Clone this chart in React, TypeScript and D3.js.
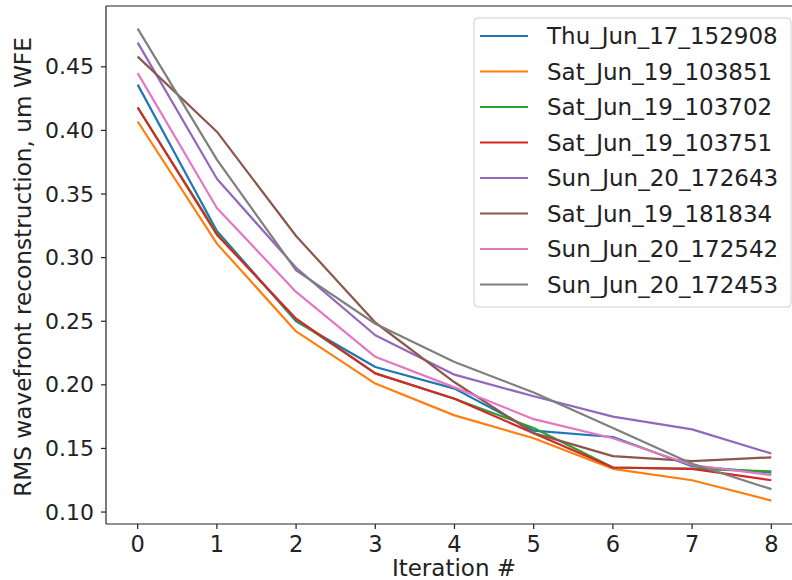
import React, { useEffect, useRef } from "react";
import * as d3 from "d3";

const iterations = [0, 1, 2, 3, 4, 5, 6, 7, 8];
const seriesNames = [
  "Thu_Jun_17_152908",
  "Sat_Jun_19_103851",
  "Sat_Jun_19_103702",
  "Sat_Jun_19_103751",
  "Sun_Jun_20_172643",
  "Sat_Jun_19_181834",
  "Sun_Jun_20_172542",
  "Sun_Jun_20_172453",
];
const thu152908 = [0.436, 0.321, 0.25, 0.214, 0.197, 0.164, 0.159, 0.136, 0.131];
const sat103851 = [0.407, 0.311, 0.242, 0.201, 0.176, 0.158, 0.134, 0.125, 0.109];
const sat103702 = [0.418, 0.319, 0.251, 0.209, 0.189, 0.166, 0.135, 0.134, 0.132];
const sat103751 = [0.418, 0.318, 0.252, 0.209, 0.189, 0.162, 0.135, 0.134, 0.125];
const sun172643 = [0.469, 0.362, 0.292, 0.239, 0.208, 0.191, 0.175, 0.165, 0.146];
const sat181834 = [0.458, 0.399, 0.317, 0.249, 0.202, 0.162, 0.144, 0.14, 0.143];
const sun172542 = [0.445, 0.339, 0.273, 0.222, 0.198, 0.173, 0.158, 0.137, 0.129];
const sun172453 = [0.48, 0.377, 0.29, 0.248, 0.218, 0.194, 0.166, 0.138, 0.118];
const seriesValues = [thu152908, sat103851, sat103702, sat103751, sun172643, sat181834, sun172542, sun172453];
const colors = ["#1f77b4", "#ff7f0e", "#2ca02c", "#d62728", "#9467bd", "#8c564b", "#e377c2", "#7f7f7f"];
const yTicks = [0.1, 0.15, 0.2, 0.25, 0.3, 0.35, 0.4, 0.45];
const xLabel = "Iteration #";
const yLabel = "RMS wavefront reconstruction, um WFE";

export default function App() {
  const ref = useRef<SVGSVGElement>(null);
  useEffect(() => {
    const svg = d3.select(ref.current);
    svg.selectAll("*").remove();
    const font = "DejaVu Sans, sans-serif";
    const left = 106, right = 803, top = 6, bottom = 524;
    const x = d3.scaleLinear().domain([-0.4, 8.4]).range([left, right]);
    const y = d3.scaleLinear().domain([0.0906, 0.4978]).range([bottom, top]);

    svg.append("rect").attr("width", 792).attr("height", 580).attr("fill", "white");

    svg.append("defs").append("clipPath").attr("id", "plotclip")
      .append("rect").attr("x", left).attr("y", top).attr("width", right - left).attr("height", bottom - top);

    const line = d3.line<number>().x((_, i) => x(iterations[i])).y((d) => y(d));
    const g = svg.append("g").attr("clip-path", "url(#plotclip)");
    seriesValues.forEach((vals, i) => {
      g.append("path").attr("d", line(vals)).attr("fill", "none")
        .attr("stroke", colors[i]).attr("stroke-width", 2.2).attr("stroke-linejoin", "round");
    });

    // spines
    const sp = svg.append("g").attr("stroke", "#222").attr("stroke-width", 1.2);
    sp.append("line").attr("x1", left).attr("x2", left).attr("y1", top).attr("y2", bottom);
    sp.append("line").attr("x1", left).attr("x2", right).attr("y1", top).attr("y2", top);
    sp.append("line").attr("x1", left).attr("x2", right).attr("y1", bottom).attr("y2", bottom);

    // x ticks
    const xt = svg.append("g");
    iterations.forEach((t) => {
      xt.append("line").attr("x1", x(t)).attr("x2", x(t)).attr("y1", bottom).attr("y2", bottom + 5)
        .attr("stroke", "#222").attr("stroke-width", 1.2);
      xt.append("text").attr("x", x(t)).attr("y", 552).attr("text-anchor", "middle")
        .attr("font-family", font).attr("font-size", 22.5).attr("fill", "#222").text(String(t));
    });
    // y ticks
    const yt = svg.append("g");
    yTicks.forEach((t) => {
      yt.append("line").attr("x1", left - 5).attr("x2", left).attr("y1", y(t)).attr("y2", y(t))
        .attr("stroke", "#222").attr("stroke-width", 1.2);
      yt.append("text").attr("x", 94).attr("y", y(t)).attr("text-anchor", "end")
        .attr("dominant-baseline", "central")
        .attr("font-family", font).attr("font-size", 22).attr("fill", "#222").text(t.toFixed(2));
    });

    svg.append("text").attr("x", 454).attr("y", 576).attr("text-anchor", "middle")
      .attr("font-family", font).attr("font-size", 23).attr("fill", "#222").text(xLabel);
    svg.append("text").attr("transform", "translate(31,267) rotate(-90)").attr("text-anchor", "middle")
      .attr("font-family", font).attr("font-size", 23.2).attr("fill", "#222").text(yLabel);

    // legend
    const lg = svg.append("g");
    lg.append("rect").attr("x", 474).attr("y", 18).attr("width", 317).attr("height", 289)
      .attr("rx", 4).attr("fill", "white").attr("fill-opacity", 0.8)
      .attr("stroke", "#d0d0d0").attr("stroke-width", 1);
    seriesNames.forEach((name, i) => {
      const cy = 36 + i * 35.5;
      lg.append("line").attr("x1", 480).attr("x2", 528).attr("y1", cy).attr("y2", cy)
        .attr("stroke", colors[i]).attr("stroke-width", 2.2);
      lg.append("text").attr("x", 547).attr("y", cy).attr("dominant-baseline", "central")
        .attr("font-family", font).attr("font-size", 23).attr("fill", "#222").text(name);
    });
  }, []);
  return (
    <svg ref={ref} width={792} height={580}
      style={{ position: "absolute", left: 0, top: 0, display: "block" }} />
  );
}
